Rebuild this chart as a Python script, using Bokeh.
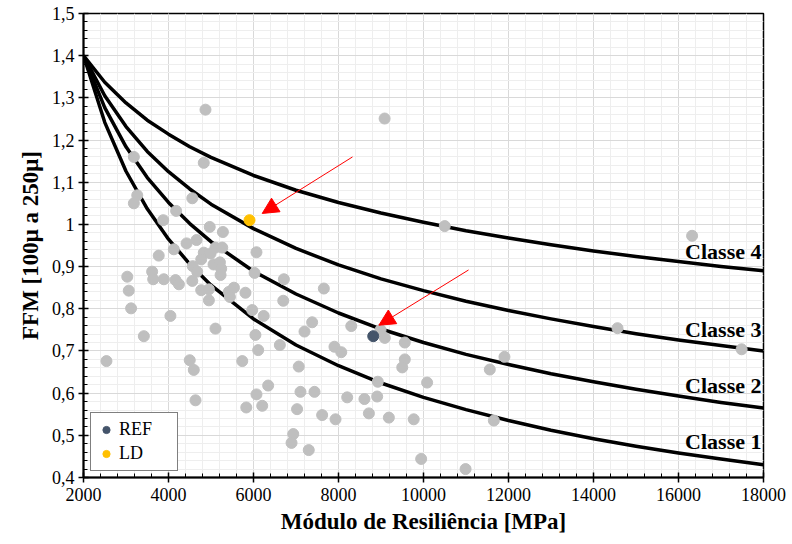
from bokeh.plotting import figure
from bokeh.models import (ColumnDataSource, Legend, LegendItem, Arrow, NormalHead,
                          SingleIntervalTicker, CustomJSTickFormatter, NumeralTickFormatter, Range1d)
from bokeh.embed import file_html
from bokeh.resources import INLINE
from bokeh.core.properties import value

# ---- data ----
curve_mr = [2000, 2500, 3000, 3500, 4000, 4500, 5000, 6000, 7000, 8000, 9000, 10000,
            11000, 12000, 13000, 14000, 15000, 16000, 17000, 18000]
classe4 = [1.400, 1.337, 1.288, 1.247, 1.214, 1.184, 1.159, 1.116, 1.081, 1.052, 1.027, 1.005,
           0.985, 0.968, 0.952, 0.937, 0.924, 0.912, 0.900, 0.890]
classe3 = [1.400, 1.305, 1.232, 1.173, 1.125, 1.084, 1.048, 0.990, 0.943, 0.904, 0.871, 0.843,
           0.818, 0.796, 0.776, 0.758, 0.741, 0.726, 0.713, 0.700]
classe2 = [1.400, 1.277, 1.184, 1.111, 1.052, 1.002, 0.959, 0.889, 0.835, 0.790, 0.752, 0.720,
           0.692, 0.668, 0.646, 0.627, 0.609, 0.593, 0.578, 0.565]
classe1 = [1.400, 1.242, 1.126, 1.037, 0.965, 0.906, 0.856, 0.776, 0.714, 0.665, 0.624, 0.590,
           0.561, 0.535, 0.512, 0.492, 0.474, 0.458, 0.444, 0.430]

gray_mr = [4870, 9085, 3185, 4830, 3265, 3185, 4560, 4180, 3875, 4970, 5280, 4425, 4660, 4125,
           3770, 4830, 4990, 5105, 5265, 6070, 4770, 5060, 5210, 5240, 5225, 4570, 4675, 6025,
           3030, 3615, 3640, 3890, 4165, 4245, 4560, 3065, 6715, 4770, 4950, 4950, 5420, 5540,
           5445, 5810, 6700, 7655, 3120, 4045, 5970, 6240, 5105, 3420, 6045, 6110, 6620, 7200,
           7380, 8300, 8990, 9090, 9560, 7905, 8065, 2540, 4500, 4595, 5735, 7065, 9560, 9500,
           8925, 6345, 10085, 6070, 7105, 7435, 4635, 8205, 8610, 8910, 5830, 6205, 7025, 7615,
           7930, 8715, 9185, 9770, 6935, 6895, 7300, 9945, 10990, 11905, 11560, 11655, 10500,
           14565, 16320, 17485]
gray_ffm = [1.272, 1.251, 1.160, 1.146, 1.069, 1.050, 1.062, 1.032, 1.010, 0.994, 0.982, 0.955,
            0.963, 0.941, 0.926, 0.933, 0.931, 0.945, 0.945, 0.934, 0.917, 0.905, 0.910, 0.895,
            0.880, 0.901, 0.888, 0.885, 0.876, 0.888, 0.870, 0.870, 0.868, 0.858, 0.866, 0.843,
            0.870, 0.844, 0.846, 0.820, 0.840, 0.850, 0.828, 0.838, 0.819, 0.848, 0.801, 0.783,
            0.797, 0.783, 0.753, 0.735, 0.738, 0.702, 0.714, 0.746, 0.768, 0.759, 0.750, 0.731,
            0.720, 0.710, 0.697, 0.676, 0.678, 0.655, 0.676, 0.663, 0.680, 0.661, 0.627, 0.618,
            0.625, 0.597, 0.603, 0.603, 0.583, 0.590, 0.586, 0.592, 0.566, 0.570, 0.562, 0.548,
            0.538, 0.552, 0.542, 0.538, 0.503, 0.482, 0.465, 0.444, 0.420, 0.686, 0.656, 0.535,
            0.996, 0.754, 0.973, 0.704]

ref_mr = [8817]
ref_ffm = [0.735]
ld_mr = [5906]
ld_ffm = [1.010]

class_names = ["Classe 4", "Classe 3", "Classe 2", "Classe 1"]
class_label_mr = [18000, 18000, 18000, 18000]
class_label_ffm = [0.935, 0.750, 0.618, 0.485]

arrow_start_mr = [8330, 11060]
arrow_start_ffm = [1.160, 0.892]
arrow_end_mr = [6205, 8950]
arrow_end_ffm = [1.026, 0.761]

x_tick_interval = 2000
y_tick_interval = 0.1

# ---- figure ----
SERIF = "Liberation Serif"
p = figure(frame_width=680, frame_height=464,
           x_range=Range1d(2000, 18000), y_range=Range1d(0.4, 1.5),
           output_backend="svg", toolbar_location=None,
           min_border_left=83, min_border_top=13, min_border_right=25, min_border_bottom=62,
           background_fill_color="white", border_fill_color="white")

p.outline_line_color = "black"
p.outline_line_width = 1.5
p.outline_line_alpha = 1.0

xt = SingleIntervalTicker(interval=x_tick_interval, num_minor_ticks=5)
yt = SingleIntervalTicker(interval=y_tick_interval, num_minor_ticks=5)
p.xaxis.ticker = xt
p.yaxis.ticker = yt
p.xgrid.ticker = xt
p.ygrid.ticker = yt
for g in (p.xgrid, p.ygrid):
    g.grid_line_color = "#D9D9D9"
    g.grid_line_width = 1
    g.minor_grid_line_color = "#EEEEEE"
    g.minor_grid_line_width = 1

p.xaxis.formatter = NumeralTickFormatter(format="0")
p.yaxis.formatter = CustomJSTickFormatter(
    code="var v = Math.round(tick*10)/10; return v.toString().replace('.', ',');")

for ax in (p.xaxis, p.yaxis):
    ax.axis_line_color = "black"
    ax.axis_line_width = 2
    ax.major_tick_line_color = "black"
    ax.major_tick_line_width = 1.5
    ax.minor_tick_line_color = "black"
    ax.minor_tick_line_width = 1
    ax.major_tick_in = 5
    ax.major_tick_out = 5
    ax.minor_tick_in = 4
    ax.minor_tick_out = 0
    ax.major_label_text_font = SERIF
    ax.major_label_text_font_size = "18px"
    ax.major_label_text_color = "black"
    ax.axis_label_text_font = SERIF
    ax.axis_label_text_font_style = "bold"
    ax.axis_label_text_font_size = "23px"
    ax.axis_label_text_color = "black"

p.xaxis.axis_label = "Módulo de Resiliência [MPa]"
p.yaxis.axis_label = "FFM [100μ a 250μ]"
p.xaxis.major_label_standoff = 5
p.yaxis.major_label_standoff = 4
p.xaxis.axis_label_standoff = 5
p.yaxis.axis_label_standoff = 6

# curves
for ys in (classe4, classe3, classe2, classe1):
    p.line(curve_mr, ys, line_color="black", line_width=3.5, line_join="round")

# points
p.scatter(gray_mr, gray_ffm, size=11, fill_color="#BFBFBF", line_color="#BFBFBF")
r_ref = p.scatter(ref_mr, ref_ffm, size=11, fill_color="#44546A", line_color="#44546A")
r_ld = p.scatter(ld_mr, ld_ffm, size=11, fill_color="#FFC000", line_color="#FFC000")

# class labels
p.text(x=class_label_mr, y=class_label_ffm, text=class_names,
       text_font=value(SERIF), text_font_style="bold", text_font_size="22px",
       text_align="right", text_baseline="middle", x_offset=-2, text_color="black")

# arrows
for xs, ys, xe, ye in zip(arrow_start_mr, arrow_start_ffm, arrow_end_mr, arrow_end_ffm):
    p.add_layout(Arrow(end=NormalHead(size=16, fill_color="red", line_color="red", line_width=1),
                       x_start=xs, y_start=ys, x_end=xe, y_end=ye,
                       line_color="red", line_width=1))

legend = Legend(items=[LegendItem(label="REF", renderers=[r_ref]),
                       LegendItem(label="LD", renderers=[r_ld])],
                location=(7, 6))
legend.label_text_font = SERIF
legend.label_text_font_size = "18px"
legend.label_text_color = "black"
legend.border_line_color = "black"
legend.border_line_width = 1.5
legend.background_fill_color = "white"
legend.background_fill_alpha = 1
legend.padding = 6
legend.spacing = 3
legend.margin = 0
legend.glyph_width = 18
legend.glyph_height = 21
legend.label_standoff = 4
legend.label_width = 52
p.add_layout(legend)

open("out.html", "w").write(file_html(p, INLINE))
